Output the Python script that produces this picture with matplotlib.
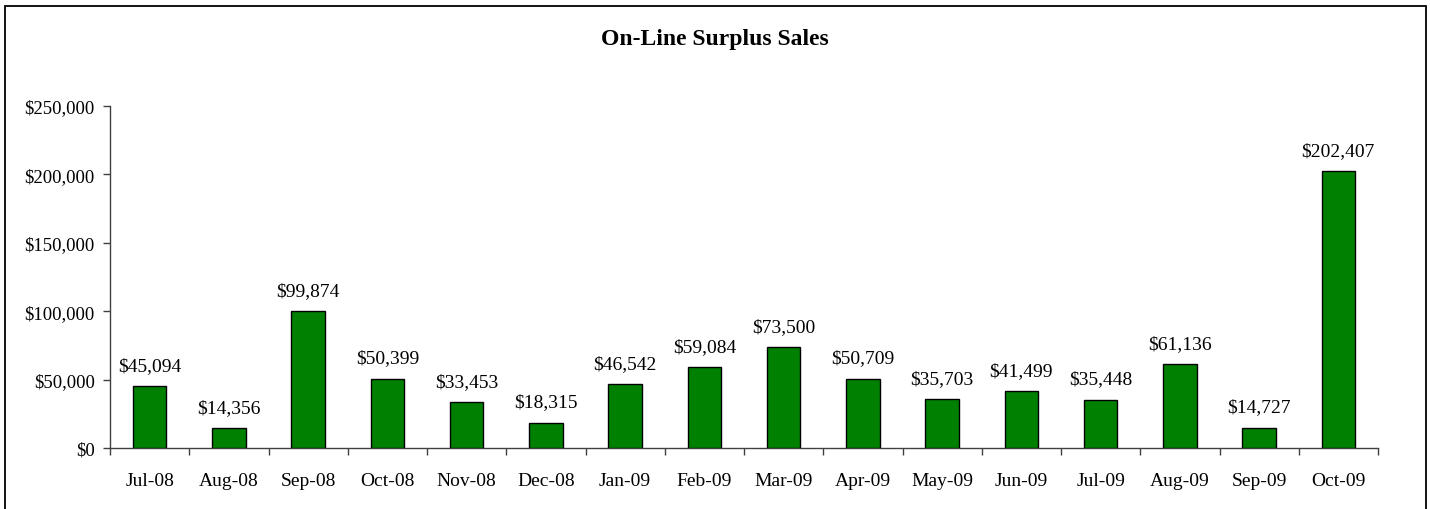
import matplotlib
matplotlib.use("Agg")
import matplotlib.pyplot as plt
from matplotlib.patches import Rectangle
from matplotlib.ticker import FuncFormatter, FixedLocator
import numpy as np

months = ["Jul-08", "Aug-08", "Sep-08", "Oct-08", "Nov-08", "Dec-08", "Jan-09", "Feb-09",
          "Mar-09", "Apr-09", "May-09", "Jun-09", "Jul-09", "Aug-09", "Sep-09", "Oct-09"]
sales = [45094, 14356, 99874, 50399, 33453, 18315, 46542, 59084,
         73500, 50709, 35703, 41499, 35448, 61136, 14727, 202407]
yticks = [0, 50000, 100000, 150000, 200000, 250000]

plt.rcParams['font.family'] = ['Liberation Serif', 'DejaVu Serif']

W, H = 1430, 510
fig = plt.figure(figsize=(W / 100, H / 100), dpi=100)
fig.patch.set_facecolor("white")

# outer border
fig.patches.append(Rectangle((4.5 / W, -0.05), (1425.5 - 4.5) / W, 1.05 - 6.5 / H,
                             transform=fig.transFigure, fill=False,
                             edgecolor="black", linewidth=1.3))

left, right, top, bottom = 110, 1378, 107, 449
ax = fig.add_axes([left / W, 1 - bottom / H, (right - left) / W, (bottom - top) / H])

x = np.arange(len(months))
ax.bar(x, sales, width=0.42, color="#008000", edgecolor="black", linewidth=1.0, zorder=3)
for xi, v in zip(x, sales):
    ax.annotate(f"${v:,}", (xi, v), xytext=(0, 9), textcoords="offset points",
                ha="center", va="bottom", fontsize=14)

ax.set_xlim(-0.5, len(months) - 0.5)
ax.set_ylim(0, 250000)
ax.set_yticks(yticks)
ax.yaxis.set_major_formatter(FuncFormatter(lambda v, p: f"${int(v):,}"))
ax.set_xticks(x)
ax.set_xticklabels(months)
ax.xaxis.set_minor_locator(FixedLocator(np.arange(-0.5, len(months), 1.0)))
ax.tick_params(axis="x", which="major", length=0, pad=17, labelsize=14)
ax.tick_params(axis="x", which="minor", length=5, width=1, color="#404040", direction="out")
ax.tick_params(axis="y", length=5, width=1, direction="out", pad=6, labelsize=13.5, color="#404040")

for s in ["top", "right"]:
    ax.spines[s].set_visible(False)
for s in ["left", "bottom"]:
    ax.spines[s].set_color("#404040")
    ax.spines[s].set_linewidth(1.0)

fig.text(0.5, 1 - 40 / H, "On-Line Surplus Sales", ha="center", va="center",
         fontsize=17, fontweight="bold")

fig.savefig("out.png", dpi=100)
